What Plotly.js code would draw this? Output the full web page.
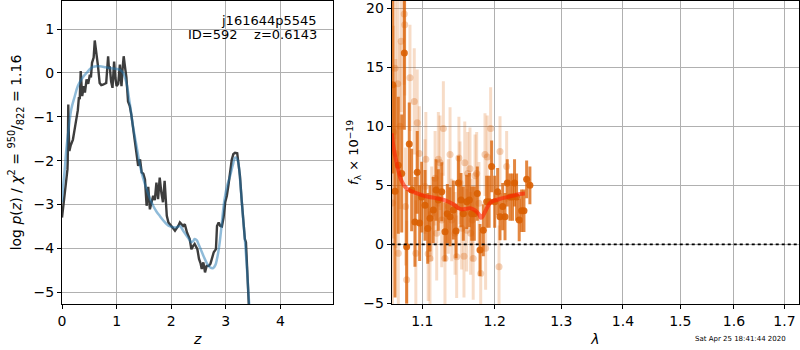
<!DOCTYPE html>
<html>
<head>
<meta charset="utf-8">
<script src="https://cdn.plot.ly/plotly-3.0.1.min.js"></script>
<style>html,body{margin:0;padding:0;background:#fff;}#chart{width:800px;height:350px;}</style>
</head>
<body>
<div id="chart"></div>
<script>
// ---- Left panel: log p(z) ----
const zRaw = [0.00,0.03,0.05,0.08,0.10,0.105,0.115,0.125,0.135,0.16,0.20,0.23,0.26,0.29,0.31,0.325,0.343,0.355,0.37,0.40,0.42,0.45,0.48,0.51,0.53,0.55,0.58,0.60,0.615,0.63,0.66,0.69,0.72,0.75,0.78,0.81,0.845,0.86,0.875,0.90,0.925,0.955,0.975,1.00,1.03,1.06,1.075,1.09,1.11,1.13,1.16,1.18,1.21,1.24,1.27,1.30,1.33,1.36,1.395,1.43,1.46,1.49,1.52,1.55,1.58,1.61,1.64,1.67,1.70,1.73,1.76,1.79,1.82,1.85,1.88,1.92,1.95,1.98,2.01,2.04,2.07,2.10,2.13,2.16,2.19,2.22,2.25,2.29,2.34,2.37,2.40,2.43,2.48,2.51,2.54,2.56,2.59,2.62,2.65,2.69,2.72,2.74,2.78,2.82,2.84,2.87,2.90,2.93,2.96,2.99,3.02,3.05,3.08,3.11,3.14,3.17,3.21,3.24,3.26,3.29,3.31,3.35,3.37,3.39,3.41,3.43];
const logpRaw = [-3.30,-3.00,-2.80,-2.43,-2.20,-2.00,-0.72,-1.40,-1.78,-1.65,-1.52,-1.30,-1.06,-0.85,-0.55,-0.60,0.04,-0.40,-0.53,-0.30,-0.45,-0.15,-0.25,-0.04,-0.10,0.23,0.35,0.74,0.60,0.53,0.15,-0.23,-0.28,-0.27,-0.25,-0.23,0.38,0.10,0.15,-0.20,-0.34,0.26,-0.10,-0.30,-0.25,0.19,-0.10,-0.30,0.10,0.38,0.08,-0.10,-0.65,-0.75,-0.95,-1.25,-1.52,-1.85,-2.12,-1.97,-2.27,-2.30,-2.43,-3.03,-2.60,-3.11,-2.95,-2.80,-2.90,-2.50,-2.88,-2.39,-2.73,-2.95,-2.46,-3.26,-3.41,-3.45,-3.49,-3.55,-3.60,-3.55,-3.49,-3.41,-3.45,-3.49,-3.45,-3.64,-3.79,-4.02,-3.95,-3.90,-4.02,-4.24,-4.35,-4.47,-4.32,-4.55,-4.40,-4.40,-4.35,-4.24,-4.09,-4.02,-3.49,-3.41,-3.49,-3.50,-3.30,-2.95,-2.80,-2.55,-2.20,-1.98,-1.85,-1.82,-1.83,-2.10,-2.35,-2.88,-3.26,-3.79,-3.86,-4.40,-4.93,-5.50];
const zSmooth = [0.00,0.02,0.05,0.08,0.12,0.17,0.23,0.29,0.37,0.45,0.57,0.69,0.80,0.94,1.06,1.12,1.18,1.24,1.30,1.37,1.43,1.49,1.55,1.61,1.67,1.73,1.79,1.86,1.92,1.98,2.04,2.10,2.16,2.22,2.28,2.33,2.37,2.40,2.43,2.47,2.50,2.55,2.59,2.65,2.71,2.77,2.81,2.84,2.88,2.91,2.97,3.02,3.08,3.13,3.17,3.20,3.23,3.26,3.29,3.32,3.35,3.38,3.41,3.44];
const logpSmooth = [-2.95,-2.60,-2.20,-1.74,-1.30,-0.83,-0.55,-0.30,-0.12,0.00,0.14,0.15,0.13,0.10,0.07,0.00,-0.23,-0.68,-1.21,-1.70,-2.12,-2.42,-2.65,-2.86,-3.03,-3.16,-3.26,-3.37,-3.45,-3.50,-3.52,-3.52,-3.49,-3.60,-3.71,-3.80,-3.86,-3.84,-3.79,-3.82,-3.90,-4.05,-4.17,-4.33,-4.43,-4.45,-4.38,-4.24,-3.95,-3.64,-2.95,-2.60,-2.35,-2.10,-1.93,-1.95,-2.05,-2.40,-2.88,-3.35,-3.79,-4.30,-4.90,-5.50];

// ---- Right panel: spectrum ----
const lamDark = [1.0615,1.0645,1.0687,1.0731,1.0765,1.0795,1.0829,1.0860,1.0903,1.0933,1.0965,1.0992,1.1036,1.1072,1.1102,1.1146,1.1183,1.1214,1.1260,1.1304,1.1336,1.1373,1.1418,1.1455,1.1487,1.1524,1.1556,1.1603,1.1640,1.1673,1.1710,1.1752,1.1790,1.1837,1.1885,1.1920,1.1956,1.2000,1.2043,1.2077,1.2116,1.2150,1.2183,1.2223,1.2260,1.2290,1.2320,1.2359,1.2395,1.2430,1.2470,1.2519];
const fDark = [13.5,4.5,6.7,6.0,16.2,-0.2,8.5,4.6,1.9,6.1,1.8,4.0,3.3,1.35,2.2,2.9,4.6,3.75,4.46,1.07,2.6,2.34,2.9,1.13,5.2,3.75,2.6,3.6,3.75,2.6,2.6,4.3,-0.48,1.2,3.6,3.6,6.6,3.6,4.46,2.34,3.2,2.34,5.2,4.0,4.0,5.2,4.0,2.06,2.85,2.85,5.5,5.0];
const eDark = [7.5,9.0,5.8,5.0,6.5,4.8,3.5,3.5,3.8,3.5,3.2,3.0,3.0,3.0,2.8,2.8,2.6,2.6,2.5,2.5,2.5,2.5,2.5,2.3,2.3,2.3,2.3,2.3,2.3,2.3,2.3,2.3,2.2,2.2,2.2,2.2,2.2,2.2,2.0,2.0,2.0,2.0,2.0,2.0,2.0,2.0,2.0,1.8,1.8,1.8,1.6,1.6];
const lamLight = [1.0612,1.0625,1.0645,1.0655,1.0680,1.0687,1.0709,1.0724,1.0763,1.0770,1.0781,1.0795,1.0838,1.0894,1.0915,1.0933,1.0960,1.1036,1.1047,1.1078,1.1102,1.1125,1.1170,1.1192,1.1214,1.1237,1.1260,1.1282,1.1304,1.1350,1.1373,1.1396,1.1442,1.1464,1.1495,1.1510,1.1533,1.1565,1.1576,1.1603,1.1617,1.1649,1.1658,1.1680,1.1694,1.1720,1.1743,1.1775,1.1800,1.1861,1.1870,1.1893,1.1942,1.2063,1.2077,1.2174];
const fLight = [3.5,9.5,14.9,7.7,13.6,-0.76,10.0,17.2,19.5,18.6,3.2,-3.0,14.1,12.1,-0.76,10.3,7.7,4.9,7.2,-0.8,-1.19,2.6,5.6,0.93,7.2,6.9,2.06,9.8,-1.19,3.2,7.6,2.06,0.93,-1.05,7.3,5.2,1.36,-1.0,6.9,1.2,6.0,6.4,0.93,2.06,-1.19,5.8,6.0,3.47,-2.46,7.6,-0.34,7.4,9.8,-1.9,7.85,6.6];
const eLight = [10,9,6,8,7,7,7,6,6,6,5,5,4.5,4.5,4.5,4.5,4,4,4,4,4,4,4,4,4,4,4,4,4,4,4,3.5,3.5,3.5,3.5,3.5,3.5,3.5,3.5,3.5,3.5,3.5,3.5,3.5,3.5,3.5,3.5,3.5,3.5,3.5,3.5,3.5,3.5,3.5,3,3];
const lamModel = [1.0603,1.0620,1.0640,1.0662,1.0682,1.0705,1.0727,1.0760,1.0793,1.0838,1.0904,1.0990,1.1078,1.1190,1.1300,1.1418,1.1480,1.1530,1.1590,1.1649,1.1700,1.1743,1.1780,1.1802,1.1825,1.1861,1.1920,1.1956,1.2077,1.2223,1.2370,1.2445];
const fModel = [9.4,8.5,7.7,7.0,6.4,5.8,5.4,5.0,4.75,4.55,4.37,4.18,4.03,3.9,3.75,3.4,3.1,2.97,3.0,3.05,2.95,2.76,2.5,2.25,2.35,2.76,3.4,3.6,3.85,4.05,4.26,4.3];
const lamTicks = [1.1,1.2,1.3,1.4,1.5,1.6,1.7];
const lamTickText = ['1.1','1.2','1.3','1.4','1.5','1.6','1.7'];
const fTicks = [-5,0,5,10,15,20];

const FONT = 'DejaVu Sans, Verdana, sans-serif';
const traces = [
  {x: zRaw, y: logpRaw, xaxis:'x', yaxis:'y', mode:'lines', line:{color:'rgba(40,40,40,0.9)', width:2.4}, hoverinfo:'skip'},
  {x: zSmooth, y: logpSmooth, xaxis:'x', yaxis:'y', mode:'lines', line:{color:'rgba(31,119,180,0.5)', width:2.5, shape:'spline'}, hoverinfo:'skip'},
  {x: lamLight, y: fLight, xaxis:'x2', yaxis:'y2', mode:'markers',
   marker:{color:'rgba(217,95,2,0.28)', size:7},
   error_y:{type:'data', array:eLight, visible:true, color:'rgba(217,95,2,0.22)', thickness:3, width:0}},
  {x: lamDark, y: fDark, xaxis:'x2', yaxis:'y2', mode:'markers',
   marker:{color:'rgba(217,95,2,0.9)', size:7},
   error_y:{type:'data', array:eDark, visible:true, color:'rgba(217,95,2,0.75)', thickness:3, width:0}},
  {x: lamModel, y: fModel, xaxis:'x2', yaxis:'y2', mode:'lines', line:{color:'rgba(255,30,0,0.6)', width:4, shape:'spline'}, hoverinfo:'skip'}
];

const axBase = {showline:true, mirror:true, linecolor:'black', linewidth:1, ticks:'outside', ticklen:4, tickwidth:1, tickcolor:'black',
  showgrid:true, gridcolor:'#b0b0b0', gridwidth:1, zeroline:false, ticklabeloverflow:'allow',
  tickfont:{family:FONT, size:14, color:'black'}};

const layout = {
  width:800, height:350, margin:{l:62, r:1, t:1, b:46}, showlegend:false,
  paper_bgcolor:'white', plot_bgcolor:'white', font:{family:FONT, color:'black'},
  xaxis: Object.assign({}, axBase, {domain:[0,0.3681], range:[0,4.97], dtick:1, anchor:'y',
     title:{text:'<i>z</i>', font:{family:FONT, size:14}, standoff:6}}),
  yaxis: Object.assign({}, axBase, {domain:[0,1], range:[-5.27,1.64], dtick:1, anchor:'x',
     title:{text:'log <i>p</i>(<i>z</i>) / <i>χ</i><sup>2</sup> = <sup>950</sup>/<sub>822</sub> = 1.16', font:{family:FONT, size:14}, standoff:8}}),
  xaxis2: Object.assign({}, axBase, {domain:[0.4474,1], type:'log', range:[0.02543,0.23807], tickmode:'array', tickvals:lamTicks, ticktext:lamTickText, anchor:'y2',
     title:{text:'<i>λ</i>', font:{family:FONT, size:14}, standoff:6}}),
  yaxis2: Object.assign({}, axBase, {domain:[0,1], range:[-5.05,20.6], tickmode:'array', tickvals:fTicks, anchor:'x2',
     title:{text:'<i>f</i><sub>λ</sub> × 10<sup>−19</sup>', font:{family:FONT, size:13}, standoff:1}}),
  shapes:[{type:'line', xref:'x2 domain', x0:0, x1:1, yref:'y2', y0:0, y1:0, line:{color:'black', width:1.6, dash:'dot'}}],
  annotations:[
    {text:'j161644p5545', xref:'x domain', yref:'y domain', x:0.947, y:0.937, xanchor:'right', yanchor:'middle', showarrow:false, font:{family:FONT, size:13, color:'black'}},
    {text:'ID=592    z=0.6143', xref:'x domain', yref:'y domain', x:0.947, y:0.888, xanchor:'right', yanchor:'middle', showarrow:false, font:{family:FONT, size:13, color:'black'}},
    {text:'Sat Apr 25 18:41:44 2020', xref:'paper', yref:'paper', x:0.985, y:-0.1155, xanchor:'right', yanchor:'middle', showarrow:false, font:{family:FONT, size:7, color:'black'}}
  ]
};
Plotly.newPlot('chart', traces, layout, {staticPlot:true, displayModeBar:false});
</script>
</body>
</html>
